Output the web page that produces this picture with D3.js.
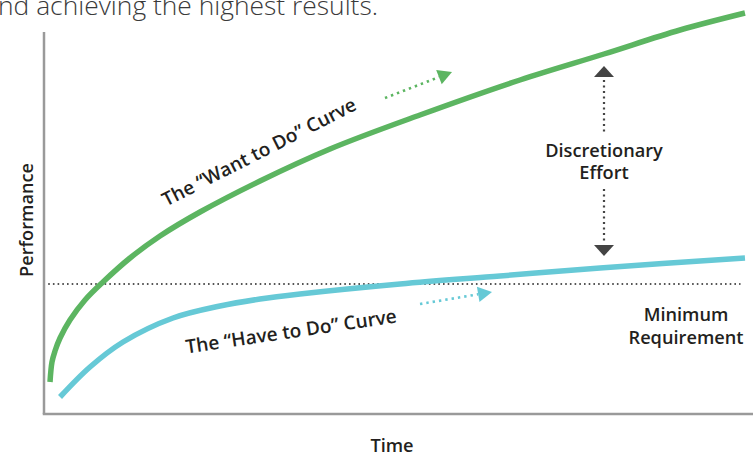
<!DOCTYPE html>
<html><head><meta charset="utf-8">
<script src="https://cdn.jsdelivr.net/npm/d3@7/dist/d3.min.js"></script>
<style>
html,body{margin:0;padding:0;background:#fff;}
svg{display:block;}
text{font-family:"Open Sans",sans-serif;}
</style></head>
<body>
<svg id="c" width="753" height="456"></svg>
<script>
// data (domain units 0-100 for time and performance)
const wantToDo = [[0.86,8],[1.14,13],[1.57,15.75],[2.29,19],[3.71,23.5],[5.86,28.5],[8.43,33],[12.29,39],[16.57,44.5],[22.29,50.5],[30.86,58.25],[40.86,66.25],[53.71,74.75],[68,83.5],[80,90],[90.86,96],[100.14,100.25]];
const haveToDo = [[2.29,4.25],[6.57,11.75],[11.29,18],[18.43,24],[25.14,27],[30.86,28.75],[36.57,30],[50.86,32.5],[65.14,34.5],[79.43,36.5],[100.14,39]];
const minimumRequirement = 32.5;
const labels = {
  title: "nd achieving the highest results.",
  xAxis: "Time", yAxis: "Performance",
  want: "The \u201CWant to Do\u201D Curve", have: "The \u201CHave to Do\u201D Curve",
  effort: ["Discretionary","Effort"], minimum: ["Minimum","Requirement"]
};

const svg = d3.select("#c");
const x = d3.scaleLinear().domain([0,100]).range([44,744]);
const y = d3.scaleLinear().domain([0,100]).range([414,14]);
const GREEN = "#5cb561", CYAN = "#66c9d6", DARK = "#444444", TXT = "#231f20";

// title fragment
svg.append("text").attr("x",-2).attr("y",15).attr("font-size",26.4).attr("font-weight",300)
  .attr("fill","#3a3a3a").text(labels.title);

// axes
svg.append("line").attr("x1",x(0)).attr("x2",x(0)).attr("y1",y(95.5)).attr("y2",y(0))
  .attr("stroke","#9a9a9a").attr("stroke-width",2.5);
svg.append("line").attr("x1",x(0)-1.25).attr("x2",753).attr("y1",y(0)).attr("y2",y(0))
  .attr("stroke","#9a9a9a").attr("stroke-width",2.5);

// min requirement dotted
svg.append("line").attr("x1",x(0.6)).attr("x2",x(99.5)).attr("y1",y(minimumRequirement)).attr("y2",y(minimumRequirement))
  .attr("stroke","#555").attr("stroke-width",2).attr("stroke-dasharray","1.6,3.1");

const line = d3.line().x(d=>x(d[0])).y(d=>y(d[1])).curve(d3.curveCatmullRom.alpha(0.5));
svg.append("path").attr("d",line(haveToDo)).attr("fill","none").attr("stroke",CYAN).attr("stroke-width",5.5);
svg.append("path").attr("d",line(wantToDo)).attr("fill","none").attr("stroke",GREEN).attr("stroke-width",5.5);

// dotted arrows
function dottedArrow(x1,y1,x2,y2,color,head){
  const ang = Math.atan2(y2-y1,x2-x1);
  const bx = x2 - head*Math.cos(ang), by = y2 - head*Math.sin(ang);
  svg.append("line").attr("x1",x1).attr("y1",y1).attr("x2",bx).attr("y2",by)
    .attr("stroke",color).attr("stroke-width",2.6).attr("stroke-dasharray","2.4,4").attr("stroke-linecap","butt");
  const w = head*0.55;
  const p = [[x2,y2],[bx + w*Math.sin(ang), by - w*Math.cos(ang)],[bx - w*Math.sin(ang), by + w*Math.cos(ang)]];
  svg.append("path").attr("d","M"+p.map(q=>q.join(",")).join("L")+"Z").attr("fill",color);
}
dottedArrow(385,98,452,72,GREEN,14);
dottedArrow(420,304,492,292,CYAN,14);

// discretionary effort arrow
const ex = 604;
svg.append("path").attr("d",`M${ex},66L${ex+10},77L${ex-10},77Z`).attr("fill",DARK);
svg.append("line").attr("x1",ex).attr("x2",ex).attr("y1",80).attr("y2",134).attr("stroke",DARK).attr("stroke-width",2.2).attr("stroke-dasharray","2,3.5");
svg.append("line").attr("x1",ex).attr("x2",ex).attr("y1",189).attr("y2",244).attr("stroke",DARK).attr("stroke-width",2.2).attr("stroke-dasharray","2,3.5");
svg.append("path").attr("d",`M${ex},256L${ex+10},245L${ex-10},245Z`).attr("fill",DARK);

const FS = 18.2;
const bold = (t)=>t.attr("font-weight",600).attr("fill",TXT);
bold(svg.append("text").attr("x",ex).attr("y",157).attr("text-anchor","middle").attr("font-size",FS).text(labels.effort[0]));
bold(svg.append("text").attr("x",ex).attr("y",179).attr("text-anchor","middle").attr("font-size",FS).text(labels.effort[1]));
bold(svg.append("text").attr("x",686).attr("y",321).attr("text-anchor","middle").attr("font-size",FS).text(labels.minimum[0]));
bold(svg.append("text").attr("x",686).attr("y",344).attr("text-anchor","middle").attr("font-size",FS).text(labels.minimum[1]));

// axis titles
bold(svg.append("text").attr("x",392).attr("y",452).attr("text-anchor","middle").attr("font-size",FS).text(labels.xAxis));
bold(svg.append("text").attr("transform","translate(33,220) rotate(-90)").attr("text-anchor","middle").attr("font-size",FS).text(labels.yAxis));

// curve labels
bold(svg.append("text").attr("transform","translate(262,158) rotate(-27)").attr("text-anchor","middle").attr("font-size",19).text(labels.want));
bold(svg.append("text").attr("transform","translate(292,338) rotate(-8.4)").attr("text-anchor","middle").attr("font-size",19).text(labels.have));
</script>
</body></html>
